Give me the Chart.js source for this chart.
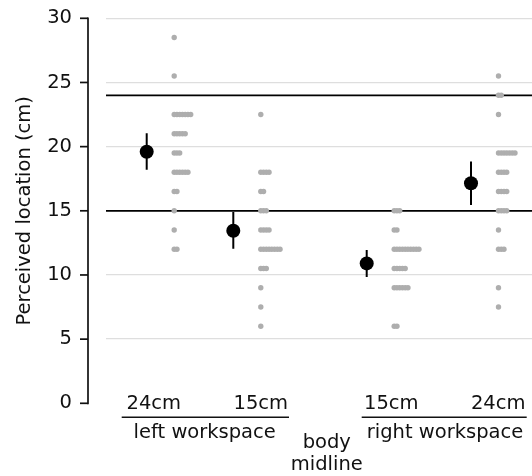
<!DOCTYPE html>
<html><head><meta charset="utf-8">
<script src="https://cdn.jsdelivr.net/npm/chart.js@4/dist/chart.umd.min.js"></script>
<style>html,body{margin:0;padding:0;background:#fff}#wrap{width:532px;height:476px}</style>
</head><body><div id="wrap"><canvas id="c" width="532" height="476"></canvas></div>
<script>
// ---- data ----
const categories = ['24cm', '15cm', '15cm', '24cm'];
const groupLabels = ['left workspace', 'right workspace'];
const midlineLabel = ['body', 'midline'];
const yTicks = [0, 5, 10, 15, 20, 25, 30];
const yTitle = 'Perceived location (cm)';
const responseLevels = [6, 7.5, 9, 10.5, 12, 13.5, 15, 16.5, 18, 19.5, 21, 22.5, 24, 25.5, 27, 28.5];
const countsLeft24  = [0, 0, 0, 0, 2, 1, 1, 2, 6, 3, 5, 7, 0, 1, 0, 1];
const countsLeft15  = [1, 1, 1, 3, 8, 4, 3, 2, 4, 0, 0, 1, 0, 0, 0, 0];
const countsRight15 = [2, 0, 6, 5, 10, 2, 3, 0, 0, 0, 0, 0, 0, 0, 0, 0];
const countsRight24 = [0, 1, 1, 0, 3, 1, 4, 4, 4, 7, 0, 1, 2, 1, 0, 0];
const means   = [19.6, 13.45, 10.9, 17.15];
const errLow  = [18.2, 12.05, 9.85, 15.45];
const errHigh = [21.05, 14.9, 11.95, 18.85];
const refLines = [15, 24];

// ---- layout (x axis in plot-pixel units) ----
const X_MAX = 426;
const condX = [40.7, 127.3, 260.7, 365];
const STRIP_OFFSET = 27.5, DOT_STEP = 2.75;
const labelX = [47.8, 154.8, 285.3, 392.2];
const groupX = [98.7, 339];
const groupLine = [[15.7, 183], [255.7, 420.7]];
const midX = 220.8;
const FONT = '"DejaVu Sans", sans-serif';
const FS = 19.5;
const TXT = '#111111';

const allCounts = [countsLeft24, countsLeft15, countsRight15, countsRight24];
const dotData = [];
allCounts.forEach((counts, ci) => {
  counts.forEach((n, li) => {
    for (let k = 0; k < n; k++) {
      dotData.push({x: condX[ci] + STRIP_OFFSET + k * DOT_STEP, y: responseLevels[li]});
    }
  });
});
const errData = [];
means.forEach((m, i) => {
  errData.push({x: condX[i], y: errLow[i]}, {x: condX[i], y: errHigh[i]}, {x: condX[i], y: null});
});
const meanData = means.map((m, i) => ({x: condX[i], y: m}));

const datasets = [
  {type: 'scatter', data: meanData, pointRadius: 7, pointHoverRadius: 7, backgroundColor: '#000', borderWidth: 0, order: 0},
  {type: 'line', data: errData, borderColor: '#000', borderWidth: 2, pointRadius: 0, spanGaps: false, fill: false, order: 1},
  {type: 'scatter', data: dotData, pointRadius: 2.7, pointHoverRadius: 2.7, backgroundColor: '#aeaeae', borderWidth: 0, order: 2},
];
refLines.forEach(v => datasets.push({
  type: 'line', data: [{x: 0, y: v}, {x: X_MAX, y: v}], borderColor: '#000', borderWidth: 1.8, pointRadius: 0, fill: false, order: 3
}));

const decor = {
  id: 'decor',
  afterDraw(chart) {
    const ctx = chart.ctx, ys = chart.scales.y, xs = chart.scales.x;
    ctx.save();
    // offset y spine + ticks
    ctx.strokeStyle = TXT; ctx.lineWidth = 1.7; ctx.lineCap = 'butt';
    const sx = 88;
    ctx.beginPath();
    ctx.moveTo(sx, ys.getPixelForValue(0) + 0.85);
    ctx.lineTo(sx, ys.getPixelForValue(30) - 0.85);
    ctx.stroke();
    yTicks.forEach(v => {
      const py = ys.getPixelForValue(v);
      ctx.beginPath(); ctx.moveTo(80, py); ctx.lineTo(sx, py); ctx.stroke();
    });
    // category labels
    ctx.fillStyle = TXT;
    ctx.font = FS + 'px ' + FONT;
    ctx.textAlign = 'center';
    ctx.textBaseline = 'alphabetic';
    categories.forEach((c, i) => ctx.fillText(c, xs.getPixelForValue(labelX[i]), 409));
    // group underlines
    ctx.lineWidth = 1.6;
    groupLine.forEach(([a, b]) => {
      ctx.beginPath();
      ctx.moveTo(xs.getPixelForValue(a), 417.3);
      ctx.lineTo(xs.getPixelForValue(b), 417.3);
      ctx.stroke();
    });
    groupLabels.forEach((g, i) => ctx.fillText(g, xs.getPixelForValue(groupX[i]), 438));
    ctx.fillText(midlineLabel[0], xs.getPixelForValue(midX), 447.5);
    ctx.fillText(midlineLabel[1], xs.getPixelForValue(midX), 469.5);
    ctx.restore();
  }
};

new Chart(document.getElementById('c'), {
  data: {datasets},
  options: {
    responsive: false, animation: false, devicePixelRatio: 1,
    layout: {autoPadding: false, padding: {top: 18.3, bottom: 72.7, left: 0, right: 0}},
    plugins: {legend: {display: false}, tooltip: {enabled: false}},
    scales: {
      x: {type: 'linear', min: 0, max: X_MAX, display: false},
      y: {
        type: 'linear', min: 0, max: 30,
        afterFit(s) { s.width = 106; s.paddingTop = 0; s.paddingBottom = 0; },
        afterBuildTicks(s) { s.ticks = yTicks.map(v => ({value: v})); },
        ticks: {font: {family: FONT, size: FS}, color: TXT, padding: 34},
        grid: {
          drawTicks: false,
          color: c => (c.tick && c.tick.value === 0) ? 'rgba(0,0,0,0)' : '#dedede',
          lineWidth: 1.3
        },
        border: {display: false},
        title: {display: true, text: yTitle, font: {family: FONT, size: FS}, color: TXT, padding: {top: 13.3, bottom: 0}}
      }
    }
  },
  plugins: [decor]
});
</script>
</body></html>
